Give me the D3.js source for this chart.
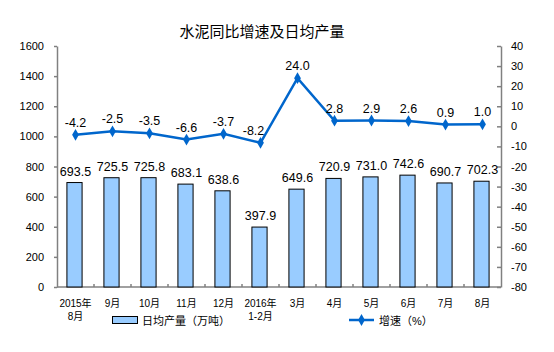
<!DOCTYPE html>
<html>
<head>
  <meta charset="utf-8">
  <script src="https://cdn.jsdelivr.net/npm/d3@7/dist/d3.min.js"></script>
  <style>
    html, body { margin: 0; padding: 0; background: #fff; overflow: hidden; }
    svg { display: block; }
    text { font-family: "Liberation Sans", Arial, "Noto Sans CJK SC", sans-serif; }
  </style>
</head>
<body>
  <svg width="554" height="352" id="chart"></svg>
  <script>
    // data
    const months = ['2015年\n8月', '9月', '10月', '11月', '12月', '2016年\n1-2月', '3月', '4月', '5月', '6月', '7月', '8月'];
    const output = [693.5, 725.5, 725.8, 683.1, 638.6, 397.9, 649.6, 720.9, 731.0, 742.6, 690.7, 702.3];
    const growth = [-4.2, -2.5, -3.5, -6.6, -3.7, -8.2, 24.0, 2.8, 2.9, 2.6, 0.9, 1.0];
    const leftTicks = [0, 200, 400, 600, 800, 1000, 1200, 1400, 1600];
    const rightTicks = [-80, -70, -60, -50, -40, -30, -20, -10, 0, 10, 20, 30, 40];

    const svg = d3.select('#chart');
    const margin = { top: 46, right: 53, bottom: 65, left: 57 };
    const innerWidth = 554 - margin.left - margin.right;
    const innerHeight = 352 - margin.top - margin.bottom;
    const g = svg.append('g').attr('transform', `translate(${margin.left},${margin.top})`);

    const xScale = d3.scaleBand().domain(d3.range(months.length)).range([0, innerWidth]);
    const yLeft = d3.scaleLinear().domain([0, 1600]).range([innerHeight, 0]);
    const yRight = d3.scaleLinear().domain([-80, 40]).range([innerHeight, 0]);
    const cx = i => xScale(i) + xScale.bandwidth() / 2;
    const axisColor = '#808080';

    // title
    svg.append('text')
      .attr('x', 262).attr('y', 37)
      .attr('text-anchor', 'middle')
      .attr('font-size', 15)
      .attr('font-family', '"Noto Sans CJK SC", sans-serif')
      .text('水泥同比增速及日均产量');

    // left axis
    const leftAxis = g.append('g')
      .call(d3.axisLeft(yLeft).tickValues(leftTicks).tickFormat(d => String(d))
        .tickSize(3).tickSizeOuter(0).tickPadding(10));
    leftAxis.selectAll('text').attr('font-size', 11).attr('fill', '#000');

    // right axis (ticks inward)
    const rightAxis = g.append('g')
      .attr('transform', `translate(${innerWidth},0)`)
      .call(d3.axisRight(yRight).tickValues(rightTicks).tickFormat(d => String(d))
        .tickSize(-4).tickSizeOuter(0).tickPadding(10));
    rightAxis.selectAll('text').attr('font-size', 11).attr('fill', '#000');

    // x axis
    const xAxis = g.append('g').attr('transform', `translate(0,${innerHeight})`);
    xAxis.append('line').attr('x1', 0).attr('x2', innerWidth);
    xAxis.selectAll('.xtick')
      .data(d3.range(1, months.length))
      .join('line')
      .attr('class', 'xtick')
      .attr('x1', d => xScale(d)).attr('x2', d => xScale(d))
      .attr('y1', 0).attr('y2', -3);
    [leftAxis, rightAxis, xAxis].forEach(a => {
      a.selectAll('line, path').attr('stroke', axisColor).attr('stroke-width', 1.5);
    });

    xAxis.selectAll('.xlabel')
      .data(months)
      .join('text')
      .attr('class', 'xlabel')
      .attr('font-size', 10)
      .attr('font-family', '"Noto Sans CJK SC", sans-serif')
      .attr('text-anchor', 'middle')
      .each(function (d, i) {
        d.split('\n').forEach((line, k) => {
          d3.select(this).append('tspan')
            .attr('x', cx(i)).attr('y', 20 + k * 13)
            .text(line);
        });
      });

    // bars
    const barW = xScale.bandwidth() * 0.41;
    g.selectAll('.bar')
      .data(output)
      .join('rect')
      .attr('class', 'bar')
      .attr('x', (d, i) => cx(i) - barW / 2 - 1)
      .attr('y', d => yLeft(d))
      .attr('width', barW)
      .attr('height', d => innerHeight - yLeft(d))
      .attr('fill', '#99CCFF')
      .attr('stroke', '#000')
      .attr('stroke-width', 1);

    g.selectAll('.barlabel')
      .data(output)
      .join('text')
      .attr('class', 'barlabel')
      .attr('x', (d, i) => cx(i))
      .attr('y', d => yLeft(d) - 7)
      .attr('text-anchor', 'middle')
      .attr('font-size', 12.5)
      .text(d => d.toFixed(1));

    // line
    const lineColor = '#0066CC';
    const line = d3.line()
      .x((d, i) => cx(i))
      .y(d => yRight(d));
    g.append('path')
      .datum(growth)
      .attr('d', line)
      .attr('fill', 'none')
      .attr('stroke', lineColor)
      .attr('stroke-width', 2.5);

    const diamond = d3.symbol().type(d3.symbolDiamond).size(40);
    g.selectAll('.pt')
      .data(growth)
      .join('path')
      .attr('class', 'pt')
      .attr('d', diamond)
      .attr('transform', (d, i) => `translate(${cx(i)},${yRight(d)})`)
      .attr('fill', lineColor);

    // -8.2 sits a bit left of its point in the original
    g.selectAll('.ptlabel')
      .data(growth)
      .join('text')
      .attr('class', 'ptlabel')
      .attr('x', (d, i) => cx(i) - (i === 5 ? 7 : 0))
      .attr('y', d => yRight(d) - 8)
      .attr('text-anchor', 'middle')
      .attr('font-size', 12.5)
      .text(d => d.toFixed(1));

    // legend
    const legend = svg.append('g').attr('font-family', '"Noto Sans CJK SC", sans-serif').attr('font-size', 11);
    legend.append('rect')
      .attr('x', 112.5).attr('y', 316.5).attr('width', 25).attr('height', 7)
      .attr('fill', '#99CCFF').attr('stroke', '#000');
    legend.append('text').attr('x', 142).attr('y', 324.5).text('日均产量（万吨）');
    legend.append('line')
      .attr('x1', 349).attr('x2', 374).attr('y1', 320).attr('y2', 320)
      .attr('stroke', lineColor).attr('stroke-width', 2.5);
    legend.append('path')
      .attr('d', diamond)
      .attr('transform', 'translate(361.5,320)')
      .attr('fill', lineColor);
    legend.append('text').attr('x', 379).attr('y', 324.5).text('增速（%）');
  </script>
</body>
</html>
